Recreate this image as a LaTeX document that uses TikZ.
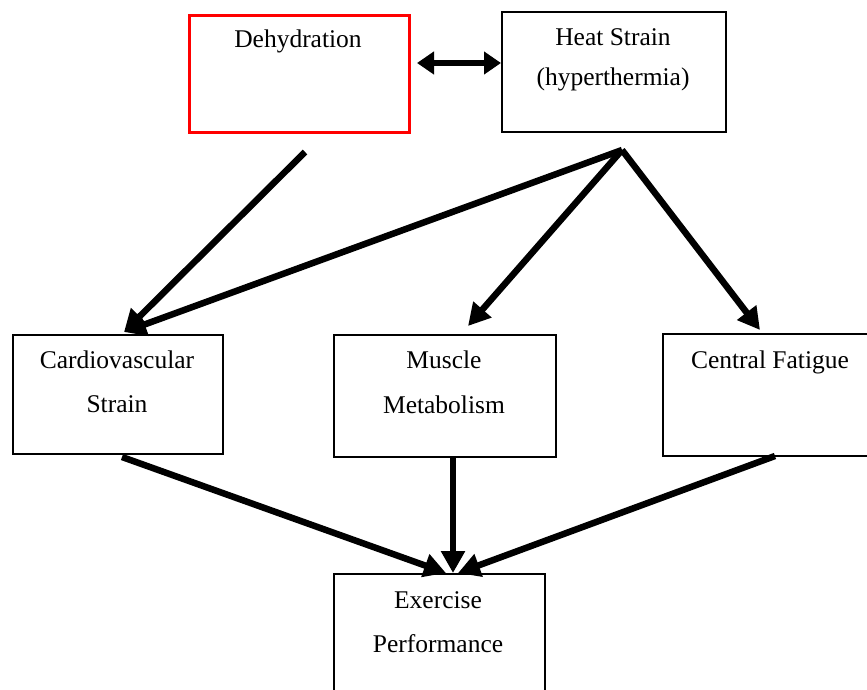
\documentclass[tikz,border=0pt]{standalone}
\usepackage{fontspec}
\setmainfont{Liberation Serif}
\usetikzlibrary{arrows.meta}
\begin{document}
\begin{tikzpicture}[x=1pt,y=-1pt,
  box/.style={draw,line width=1.6pt,anchor=north west,inner sep=0pt},
  lbl/.style={font=\fontsize{25.5}{30}\selectfont,anchor=base,inner sep=0pt},
  arr/.style={line width=6.5pt,-{Triangle[length=22pt,width=23pt]}},
  darr/.style={line width=6pt,{Triangle[length=17pt,width=22pt]}-{Triangle[length=17pt,width=22pt]}}]
\useasboundingbox (0,0) rectangle (867,690);
\clip (0,0) rectangle (867,690);
% boxes
\node[box,draw=red,line width=3.4pt,minimum width=220pt,minimum height=117pt] (dehy) at (188,14) {};
\node[box,minimum width=224pt,minimum height=120pt] (heat) at (501,11) {};
\node[box,minimum width=210pt,minimum height=119pt] (cardio) at (12,334) {};
\node[box,minimum width=222pt,minimum height=122pt] (muscle) at (333,334) {};
\node[box,minimum width=210pt,minimum height=122pt] (central) at (662,333) {};
\node[box,minimum width=211pt,minimum height=140pt] (exer) at (333,573) {};
% labels
\node[lbl] (t1) at (298,48) {Dehydration};
\node[lbl] (t2) at (613,46) {Heat Strain};
\node[lbl] (t3) at (613,86) {(hyperthermia)};
\node[lbl] (t4) at (117,368) {Cardiovascular};
\node[lbl] (t5) at (117,412) {Strain};
\node[lbl] (t6) at (444,368) {Muscle};
\node[lbl] (t7) at (444,413) {Metabolism};
\node[lbl] (t8) at (770,368) {Central Fatigue};
\node[lbl] (t9) at (438,608) {Exercise};
\node[lbl] (t10) at (438,652) {Performance};
% connector end points
\coordinate (ds) at (305,152);
\coordinate (hs) at (622,150);
\coordinate (cin) at (124,332);
\coordinate (min) at (468,326);
\coordinate (fin) at (760,330);
\coordinate (cs) at (122,457);
\coordinate (ms) at (453,456);
\coordinate (fs) at (775,456);
\coordinate (ein1) at (446,573);
\coordinate (ein2) at (453,573);
\coordinate (ein3) at (458,573);
\coordinate (dl) at (417,63);
\coordinate (dr) at (501,63);
% arrows
\draw[darr] (dl) -- (dr);
\draw[arr] (ds) -- (cin);
\draw[arr] (hs) -- (cin);
\draw[arr] (hs) -- (min);
\draw[arr] (hs) -- (fin);
\draw[arr] (cs) -- (ein1);
\draw[arr] (ms) -- (ein2);
\draw[arr] (fs) -- (ein3);
\end{tikzpicture}
\end{document}
